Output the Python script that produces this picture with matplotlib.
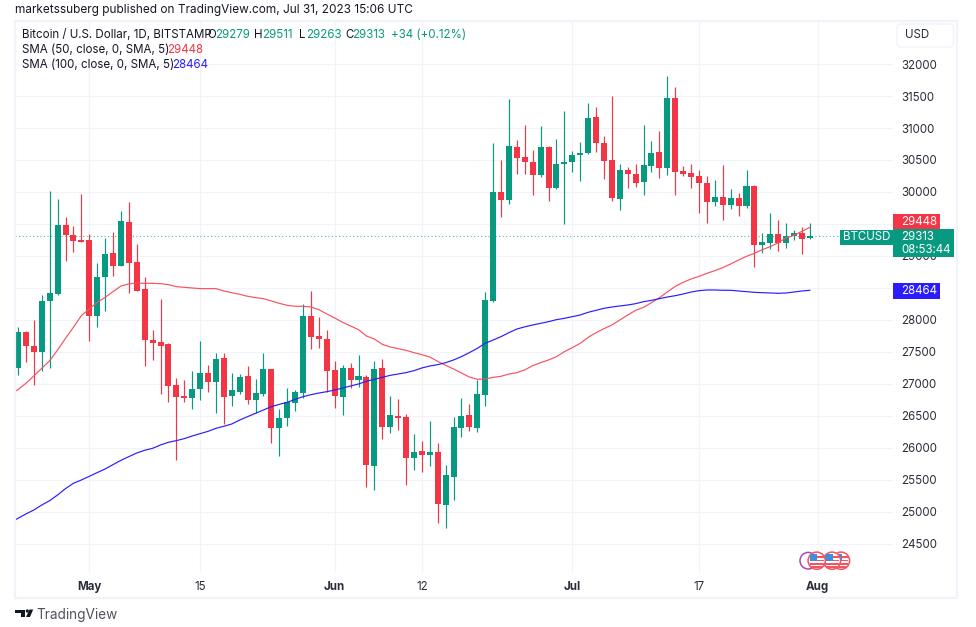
import numpy as np
import matplotlib
matplotlib.use('Agg')
import matplotlib.pyplot as plt
from matplotlib.patches import Circle, FancyBboxPatch, Polygon, Rectangle

plt.rcParams['font.family'] = ['Inter', 'DejaVu Sans']

# candles, one per day, day 0 is May 1 2023
first_day = -9
opens = [
    27245, 27808, 27594, 27500, 28302, 28406, 29490, 29333, 29250,
    29250, 28068, 28667, 29047, 28849, 29531, 28906, 28479, 27682, 27656,
    27625, 26985, 26813, 26787, 26917, 27172, 27031, 27412, 26813, 26875,
    27125, 26745, 26844, 27229, 26318, 26474, 26708, 26859, 28062, 27750,
    27698, 27224, 26802, 27255, 27057, 27109, 25719, 27255, 26328, 26500,
    26484, 25849, 25948, 25891, 25932, 25109, 25547, 26318, 26516, 26318,
    26828, 28297, 30000, 29880, 30698, 30541, 30468, 30260, 30703, 30062,
    30432, 30463, 30578, 30604, 31166, 30771, 30500, 29896, 30338, 30286,
    30161, 30406, 30625, 30375, 31468, 30323, 30297, 30245, 30140, 29849,
    29916, 29802, 29901, 29781, 30088, 29166, 29208, 29344, 29208, 29307,
    29354, 29279,
]
highs = [
    27886, 27823, 28000, 28391, 30016, 29891, 29610, 29469, 29964,
    29344, 28891, 29281, 29375, 29703, 29844, 29188, 28667, 27844, 28323,
    27635, 27094, 27063, 27203, 27672, 27297, 27485, 27485, 27172, 27156,
    27281, 27083, 27485, 27240, 26609, 26937, 26901, 28245, 28453, 28047,
    27839, 27354, 27292, 27323, 27453, 27135, 27354, 27385, 26812, 26771,
    26526, 26219, 26104, 26417, 26073, 25734, 26484, 26786, 26687, 27068,
    28437, 30760, 30500, 31453, 30812, 31041, 30656, 31031, 30719, 30828,
    31271, 30640, 30786, 31385, 31328, 30875, 31500, 30442, 30385, 30442,
    31047, 30797, 30953, 31812, 31640, 30406, 30442, 30344, 30245, 30187,
    30416, 30047, 29989, 30344, 30104, 29359, 29672, 29562, 29515, 29406,
    29448, 29511,
]
lows = [
    27146, 27344, 26985, 27209, 27245, 28396, 28927, 29068, 29219,
    27672, 27886, 28141, 28693, 28844, 28427, 28448, 27287, 27375, 26849,
    26724, 25808, 26719, 26604, 26745, 26870, 26552, 26375, 26662, 26849,
    26693, 26552, 26813, 26073, 25875, 26344, 26573, 26781, 27542, 27568,
    26870, 26630, 26516, 26943, 26958, 25391, 25349, 26141, 26234, 26286,
    25422, 25656, 25630, 25719, 24823, 24755, 25193, 26172, 26271, 26255,
    26656, 28285, 29609, 29817, 30286, 30286, 29948, 30234, 29859, 30052,
    29505, 30317, 30177, 30588, 30630, 30203, 29864, 29724, 30062, 30073,
    29958, 30317, 30219, 30260, 29958, 30255, 30062, 29677, 29521, 29776,
    29567, 29734, 29630, 29755, 28833, 29052, 29109, 29083, 29125, 29255,
    29036, 29263,
]
closes = [
    27808, 27589, 27500, 28297, 28422, 29490, 29328, 29240, 29219,
    28068, 28677, 29031, 28839, 29547, 28896, 28459, 27688, 27641, 27599,
    26974, 26802, 26776, 26927, 27172, 27031, 27396, 26802, 26901, 27110,
    26745, 26860, 27229, 26318, 26474, 26714, 26870, 28062, 27740, 27698,
    27203, 26818, 27255, 27062, 27125, 25734, 27240, 26333, 26516, 26474,
    25849, 25943, 25891, 25932, 25125, 25573, 26328, 26500, 26328, 26844,
    28307, 30000, 29880, 30713, 30536, 30463, 30260, 30698, 30067, 30442,
    30468, 30583, 30609, 31156, 30760, 30489, 29906, 30344, 30276, 30146,
    30416, 30609, 30380, 31468, 30317, 30286, 30234, 30146, 29849, 29916,
    29797, 29901, 29781, 30088, 29166, 29213, 29344, 29208, 29318, 29354,
    29265, 29313,
]

# moving averages, days -10 to 91
sma_first_day = -10
sma50 = [
    26844, 26912, 27011, 27125, 27245, 27365, 27531, 27714, 27886, 28068,
    28172, 28276, 28354, 28443, 28531, 28563, 28578, 28573, 28573, 28568,
    28552, 28521, 28510, 28500, 28490, 28490, 28490, 28453, 28427, 28401,
    28370, 28349, 28334, 28297, 28260, 28229, 28214, 28214, 28203, 28161,
    28094, 28031, 27964, 27906, 27849, 27750, 27703, 27620, 27578, 27552,
    27526, 27490, 27458, 27422, 27354, 27292, 27234, 27172, 27109, 27073,
    27078, 27104, 27120, 27156, 27177, 27220, 27286, 27333, 27375, 27427,
    27505, 27568, 27635, 27729, 27802, 27865, 27922, 28000, 28078, 28151,
    28198, 28271, 28349, 28437, 28526, 28589, 28641, 28682, 28729, 28771,
    28818, 28875, 28937, 28995, 29042, 29099, 29146, 29208, 29281, 29323,
    29385, 29448,
]
sma100 = [
    24828, 24901, 24969, 25031, 25109, 25177, 25266, 25365, 25448, 25500,
    25557, 25615, 25672, 25740, 25807, 25865, 25922, 25964, 25995, 26047,
    26089, 26115, 26146, 26187, 26224, 26260, 26307, 26339, 26375, 26437,
    26490, 26542, 26594, 26646, 26682, 26714, 26760, 26802, 26833, 26859,
    26880, 26906, 26937, 26969, 27000, 27042, 27073, 27104, 27135, 27156,
    27177, 27208, 27250, 27281, 27302, 27333, 27375, 27427, 27490, 27557,
    27635, 27687, 27740, 27802, 27859, 27893, 27922, 27948, 27974, 28005,
    28026, 28052, 28078, 28120, 28151, 28182, 28203, 28219, 28234, 28255,
    28286, 28307, 28333, 28359, 28380, 28406, 28437, 28458, 28469, 28469,
    28464, 28464, 28453, 28443, 28432, 28427, 28422, 28417, 28422, 28437,
    28453, 28464,
]

price_ticks = list(range(24500, 32500, 500))
date_ticks = [0, 14, 31, 42, 61, 77, 92]
date_labels = ['May', '15', 'Jun', '12', 'Jul', '17', 'Aug']
month_labels = ['May', 'Jun', 'Jul', 'Aug']

last_price = 29313

UP = '#089981'
DOWN = '#F23645'
BLUE = '#2A1CFF'
PINK = '#F7525F'
GRID = '#F0F3FA'
TEXT = '#131722'
AXIS_TEXT = '#2A2E39'

W, H = 976, 627
fig = plt.figure(figsize=(W / 100, H / 100), dpi=100, facecolor='white')

# main price pane, the rest of the page is drawn in pixels on an overlay
ax = fig.add_axes([15 / W, 1 - 572 / H, 878 / W, 551 / H])
ax.set_xlim(-9.38, 101.5)
ax.set_ylim(24062, 32672)
for spine in ax.spines.values():
    spine.set_visible(False)
ax.set_axisbelow(True)
ax.grid(True, color=GRID, linewidth=0.9)

ax.yaxis.tick_right()
ax.set_yticks(price_ticks)
ax.set_xticks(date_ticks)
ax.set_xticklabels(date_labels)
ax.tick_params(axis='y', length=0, pad=5.8, labelsize=8.3, labelcolor=AXIS_TEXT)
ax.tick_params(axis='x', length=0, pad=6.5, labelsize=8.3, labelcolor=AXIS_TEXT)
for label in ax.get_xticklabels():
    if label.get_text() in month_labels:
        label.set_fontweight('bold')

days = np.arange(first_day, first_day + len(opens))
o = np.array(opens)
c = np.array(closes)
colors = [UP if b >= a else DOWN for a, b in zip(o, c)]

ax.axhline(last_price, color=UP, linewidth=0.8, linestyle=(0, (1, 2.2)), alpha=0.7, zorder=1)
ax.vlines(days, lows, highs, colors=colors, linewidth=0.85, zorder=2)
ax.bar(days, np.abs(c - o), bottom=np.minimum(o, c), width=0.76, color=colors, zorder=3)

sma_days = np.arange(sma_first_day, sma_first_day + len(sma50))
ax.plot(sma_days, sma50, color=PINK, linewidth=0.85, zorder=4)
ax.plot(sma_days, sma100, color=BLUE, linewidth=0.85, zorder=4)

# overlay in image pixels
ov = fig.add_axes([0, 0, 1, 1], facecolor='none')
ov.set_xlim(0, W)
ov.set_ylim(H, 0)
ov.axis('off')

ov.add_patch(Rectangle((15, 20.5), 941.5, 577, fill=False, edgecolor=GRID, linewidth=1.6))


def put(x, y, s, color=TEXT, size=8.3, **kw):
    ov.text(x, y, s, color=color, fontsize=size, va='center', **kw)


put(15, 9.5, 'marketssuberg published on TradingView.com, Jul 31, 2023 15:06 UTC', size=8.5)

put(22.5, 34.5, 'Bitcoin / U.S. Dollar, 1D, BITSTAMP', size=8.3)
for x, s, col in [(207, 'O', TEXT), (215, '29279', UP), (254, 'H', TEXT), (262, '29511', UP),
                  (299, 'L', TEXT), (306, '29263', UP), (345, 'C', TEXT), (352, '29313', UP),
                  (391, '+34 (+0.12%)', UP)]:
    put(x, 34.5, s, color=col, size=8.3)

put(22.5, 50, 'SMA (50, close, 0, SMA, 5)', size=8.3)
put(167, 50, '29448', color=DOWN, size=8.3)
put(22.5, 65.5, 'SMA (100, close, 0, SMA, 5)', size=8.3)
put(172, 65.5, '28464', color=BLUE, size=8.3)

# USD button
ov.add_patch(FancyBboxPatch((899, 26), 52.5, 19, boxstyle='round,pad=2,rounding_size=4',
                            facecolor='white', edgecolor=GRID, linewidth=1.0))
put(905, 35.5, 'USD', color=AXIS_TEXT, size=8.3)

# price labels on the scale
ov.add_patch(Rectangle((893, 214), 46.5, 16, facecolor=DOWN, edgecolor='none'))
put(901, 221.8, '29448', color='white')
ov.add_patch(Rectangle((839.5, 229.5), 54, 15, facecolor=UP, edgecolor='none'))
put(843.5, 237.2, 'BTCUSD', color='white')
ov.add_patch(Rectangle((893, 229.3), 60.5, 28, facecolor=UP, edgecolor='none'))
put(901, 237.2, '29313', color='white')
put(901, 250, '08:53:44', color='white')
ov.add_patch(Rectangle((893, 283.3), 46.5, 15.5, facecolor=BLUE, edgecolor='none'))
put(901, 291, '28464', color='white')

# event icons above the date axis
ov.add_patch(Circle((808.3, 560.7), 8.3, facecolor='white', edgecolor='#AB47BC', linewidth=1.1))
for cx in [841, 832, 816.7]:
    disc = Circle((cx, 560.7), 8.6, facecolor='white', edgecolor=PINK, linewidth=1.1, zorder=5)
    ov.add_patch(disc)
    for k, sy in enumerate([556.2, 559.6, 563.0, 566.4]):
        stripe = Rectangle((cx - 7, sy), 14, 1.7, facecolor=PINK, edgecolor='none', zorder=5)
        stripe.set_clip_path(disc)
        ov.add_patch(stripe)
    canton = Rectangle((cx - 7, 553.5), 7.5, 7, facecolor='#3D8FE0', edgecolor='none', zorder=5)
    canton.set_clip_path(disc)
    ov.add_patch(canton)

# footer logo
ov.add_patch(Polygon([(15, 609.5), (25, 609.5), (25, 617), (20.5, 617), (20.5, 612.5), (15, 612.5)],
                     facecolor=TEXT, edgecolor='none'))
ov.add_patch(Circle((27.3, 611), 1.6, facecolor=TEXT, edgecolor='none'))
ov.add_patch(Polygon([(29.5, 609.5), (33.2, 609.5), (30, 617), (26, 617)], facecolor=TEXT, edgecolor='none'))
put(36.5, 615, 'TradingView', color='#50535E', size=9.8)

fig.savefig('out.png', dpi=100)
plt.close(fig)
